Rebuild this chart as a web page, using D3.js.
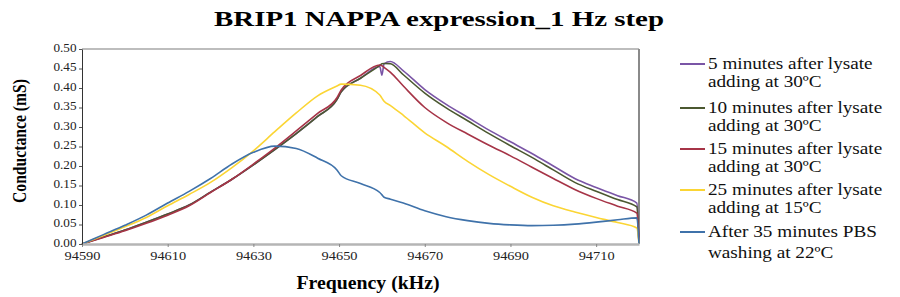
<!DOCTYPE html>
<html>
<head>
<meta charset="utf-8">
<script src="https://cdn.jsdelivr.net/npm/d3@7"></script>
<style>
  body { margin: 0; background: #fff; }
  svg text { font-family: "Liberation Serif", "Times New Roman", serif; }
</style>
</head>
<body>
<div id="container"></div>
<script>
/* DATA */
const freq = [94590, 94595, 94600, 94605, 94610, 94615, 94620, 94625, 94630, 94635, 94640, 94645,
  94649.5, 94650.5, 94655, 94659.5, 94660, 94660.5, 94662, 94665, 94670, 94675, 94680, 94685,
  94690, 94695, 94700, 94705, 94710, 94715, 94719.5, 94720];

const min5 = [0, 0.018, 0.036, 0.056, 0.077, 0.100, 0.133, 0.166, 0.203, 0.242, 0.283, 0.327,
  0.370, 0.390, 0.425, 0.455, 0.433, 0.462, 0.468, 0.444, 0.396, 0.358, 0.325, 0.292,
  0.262, 0.232, 0.200, 0.168, 0.145, 0.124, 0.105, 0];

const min10 = [0, 0.018, 0.036, 0.056, 0.077, 0.100, 0.133, 0.166, 0.203, 0.242, 0.283, 0.327,
  0.370, 0.390, 0.425, 0.458, 0.462, 0.463, 0.462, 0.434, 0.387, 0.349, 0.316, 0.283,
  0.252, 0.222, 0.190, 0.158, 0.135, 0.114, 0.095, 0];

const min15 = [0, 0.017, 0.034, 0.053, 0.074, 0.098, 0.132, 0.166, 0.205, 0.246, 0.290, 0.335,
  0.375, 0.395, 0.432, 0.459, 0.457, 0.453, 0.440, 0.405, 0.350, 0.312, 0.282, 0.253,
  0.226, 0.197, 0.168, 0.140, 0.117, 0.097, 0.079, 0];

const min25 = [0, 0.022, 0.044, 0.068, 0.098, 0.127, 0.158, 0.196, 0.239, 0.288, 0.336, 0.380,
  0.405, 0.410, 0.407, 0.382, 0.374, 0.366, 0.355, 0.330, 0.285, 0.250, 0.212, 0.178,
  0.148, 0.120, 0.098, 0.082, 0.068, 0.055, 0.041, 0];

const pbs35 = [0, 0.024, 0.048, 0.074, 0.105, 0.135, 0.168, 0.205, 0.235, 0.251, 0.245, 0.220,
  0.190, 0.175, 0.155, 0.132, 0.126, 0.120, 0.115, 0.105, 0.085, 0.070, 0.060, 0.053,
  0.049, 0.047, 0.048, 0.051, 0.056, 0.062, 0.067, 0];

const seriesNames = [
  ["5 minutes after lysate", "adding at 30ºC"],
  ["10 minutes after lysate", "adding at 30ºC"],
  ["15 minutes after lysate", "adding at 30ºC"],
  ["25 minutes after lysate", "adding at 15ºC"],
  ["After 35 minutes PBS", "washing at 22ºC"]
];
const seriesValues = [min5, min10, min15, min25, pbs35];
const seriesColors = ["#7a55a6", "#4b5830", "#a63447", "#fbd534", "#3f72aa"];

const xTicks = [94590, 94610, 94630, 94650, 94670, 94690, 94710];
const yTicks = d3.range(0, 0.501, 0.05);

/* LAYOUT */
const width = 900, height = 297;
const plot = { left: 82, right: 639, top: 49, bottom: 244 };
const stretch = 1.2; // text in the source looks a bit wider than normal
const serif = '"Liberation Serif", "Times New Roman", serif';

const svg = d3.select('#container')
  .append('svg')
  .attr('width', width)
  .attr('height', height)
  .attr('font-family', serif);

const xScale = d3.scaleLinear()
  .domain([94590, 94720])
  .range([plot.left, plot.right]);

const yScale = d3.scaleLinear()
  .domain([0, 0.5])
  .range([plot.bottom, plot.top]);

// frame: top and right borders
svg.append('line')
  .attr('x1', plot.left).attr('x2', plot.right)
  .attr('y1', plot.top).attr('y2', plot.top)
  .attr('stroke', '#bdbdbd').attr('stroke-width', 2);
svg.append('line')
  .attr('x1', plot.right).attr('x2', plot.right)
  .attr('y1', plot.top).attr('y2', plot.bottom)
  .attr('stroke', '#8a8a8a').attr('stroke-width', 2);

// lines
const line = d3.line()
  .x((d, i) => xScale(freq[i]))
  .y(d => yScale(d))
  .curve(d3.curveMonotoneX);

svg.selectAll('path.series')
  .data(seriesValues)
  .join('path')
  .attr('class', 'series')
  .attr('d', d => line(d))
  .attr('fill', 'none')
  .attr('stroke', (d, i) => seriesColors[i])
  .attr('stroke-width', 1.6)
  .attr('stroke-linejoin', 'round');

// axes
const xAxis = svg.append('g')
  .attr('transform', `translate(0, ${plot.bottom})`)
  .call(d3.axisBottom(xScale).tickValues(xTicks).tickFormat(d3.format('d'))
    .tickSize(3).tickSizeOuter(0).tickPadding(2))
  .attr('font-family', serif);
xAxis.select('.domain').attr('stroke', '#b5b5b5').attr('stroke-width', 2.5);
xAxis.selectAll('.tick line').attr('stroke', '#888');
xAxis.selectAll('.tick text')
  .attr('font-family', serif)
  .attr('font-size', 12)
  .attr('fill', '#222')
  .attr('dy', '0.95em')
  .attr('transform', `scale(${stretch},1)`);

const yAxis = svg.append('g')
  .attr('transform', `translate(${plot.left}, 0)`)
  .call(d3.axisLeft(yScale).tickValues(yTicks).tickFormat(d3.format('.2f')).tickSize(3).tickSizeOuter(0))
  .attr('font-family', serif);
yAxis.select('.domain').attr('stroke', '#333').attr('stroke-width', 1);
yAxis.selectAll('.tick line').attr('stroke', '#555');
yAxis.selectAll('.tick text')
  .attr('font-family', serif)
  .attr('font-size', 12)
  .attr('fill', '#222')
  .attr('x', -5)
  .attr('dy', '0.2em')
  .attr('transform', 'scale(1.1,1)');

// title
svg.append('text')
  .attr('x', 439)
  .attr('y', 26)
  .attr('text-anchor', 'middle')
  .attr('font-family', serif)
  .attr('font-weight', 'bold')
  .attr('font-size', 22)
  .attr('textLength', 450)
  .attr('lengthAdjust', 'spacingAndGlyphs')
  .text('BRIP1 NAPPA expression_1 Hz step');

// axis labels
svg.append('text')
  .attr('x', 368)
  .attr('y', 289)
  .attr('text-anchor', 'middle')
  .attr('font-family', serif)
  .attr('font-weight', 'bold')
  .attr('font-size', 18)
  .attr('textLength', 143)
  .attr('lengthAdjust', 'spacingAndGlyphs')
  .text('Frequency (kHz)');

svg.append('text')
  .attr('transform', 'rotate(-90)')
  .attr('x', -141)
  .attr('y', 26)
  .attr('text-anchor', 'middle')
  .attr('font-family', serif)
  .attr('font-weight', 'bold')
  .attr('font-size', 18)
  .attr('textLength', 124)
  .attr('lengthAdjust', 'spacingAndGlyphs')
  .text('Conductance (mS)');

// legend
const legendTop = [64, 108, 149, 190, 232];
const legend = svg.selectAll('g.legend')
  .data(seriesNames)
  .join('g')
  .attr('class', 'legend')
  .attr('transform', (d, i) => `translate(680, ${legendTop[i]})`);

legend.append('line')
  .attr('x1', 0).attr('x2', 25)
  .attr('y1', 0).attr('y2', 0)
  .attr('stroke', (d, i) => seriesColors[i])
  .attr('stroke-width', 2);

const legendText = legend.append('g')
  .attr('transform', `translate(28, 0) scale(${stretch},1)`);

legendText.append('text')
  .attr('y', 5)
  .attr('font-family', serif)
  .attr('font-size', 16)
  .attr('fill', '#111')
  .text(d => d[0]);

legendText.append('text')
  .attr('y', (d, i) => i === 4 ? 26 : 23)
  .attr('font-family', serif)
  .attr('font-size', 16)
  .attr('fill', '#111')
  .text(d => d[1]);
</script>
</body>
</html>
